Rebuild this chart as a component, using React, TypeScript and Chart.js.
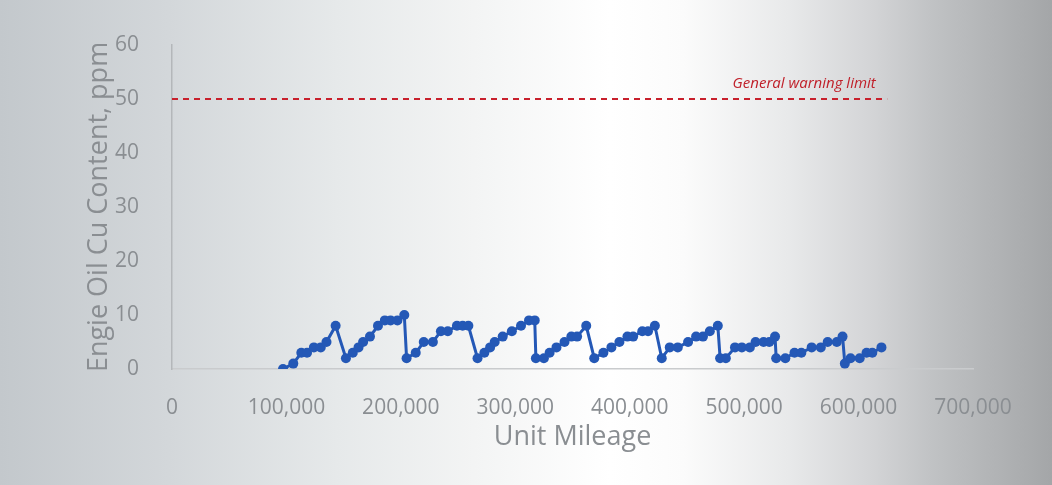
import React, { useEffect, useRef } from "react";
import { Chart, registerables } from "chart.js";

Chart.register(...registerables);

const mileage = [
  97000, 106000, 113000, 118000, 124000, 130000, 135000, 143000,
  152000, 158000, 163000, 167000, 173000, 180000, 186000, 191000, 197000, 203000,
  205000, 213000, 220000, 228000, 235000, 241000, 249000, 254000, 259000,
  267000, 273000, 278000, 282000, 289000, 297000, 305000, 312000, 317000,
  318000, 325000, 330000, 336000, 343000, 349000, 354000, 362000,
  369000, 377000, 384000, 391000, 398000, 403000, 411000, 416000, 422000,
  428000, 435000, 442000, 451000, 458000, 464000, 470000, 477000,
  479000, 484000, 492000, 498000, 505000, 510000, 517000, 522000, 527000,
  528000, 536000, 544000, 550000, 559000, 567000, 573000, 581000, 586000,
  588000, 593000, 601000, 607000, 612000, 620000,
];
const cuPpm = [
  0, 1, 3, 3, 4, 4, 5, 8,
  2, 3, 4, 5, 6, 8, 9, 9, 9, 10,
  2, 3, 5, 5, 7, 7, 8, 8, 8,
  2, 3, 4, 5, 6, 7, 8, 9, 9,
  2, 2, 3, 4, 5, 6, 6, 8,
  2, 3, 4, 5, 6, 6, 7, 7, 8,
  2, 4, 4, 5, 6, 6, 7, 8,
  2, 2, 4, 4, 4, 5, 5, 5, 6,
  2, 2, 3, 3, 4, 4, 5, 5, 6,
  1, 2, 2, 3, 3, 4,
];
const warningLimit = 50;
const warningStart = 0;
const warningEnd = 625000;
const warningLabel = "General warning limit";
const xTitle = "Unit Mileage";
const yTitle = "Engie Oil Cu Content, ppm";

const warningLabelPlugin = {
  id: "warningLabel",
  afterDatasetsDraw(chart: any) {
    const { ctx, scales } = chart;
    const x = scales.x.getPixelForValue(615000);
    const y = scales.y.getPixelForValue(warningLimit);
    ctx.save();
    ctx.font = "italic 15px 'Open Sans', sans-serif";
    ctx.fillStyle = "#c0202a";
    ctx.textAlign = "right";
    ctx.textBaseline = "alphabetic";
    ctx.fillText(warningLabel, x, y - 11);
    ctx.restore();
  },
};

export default function App() {
  const ref = useRef<HTMLCanvasElement>(null);
  useEffect(() => {
    document.body.style.margin = "0";
    Chart.defaults.font.family = "'Open Sans', sans-serif";
    const chart = new Chart(ref.current!, {
      type: "scatter",
      data: {
        datasets: [
          {
            data: [
              { x: warningStart, y: warningLimit },
              { x: warningEnd, y: warningLimit },
            ],
            showLine: true,
            borderColor: "#c8202c",
            borderWidth: 2,
            borderDash: [6, 5],
            pointRadius: 0,
          },
          {
            data: mileage.map((m, i) => ({ x: m, y: cuPpm[i] })),
            showLine: true,
            borderColor: "#2458b6",
            backgroundColor: "#2458b6",
            borderWidth: 3,
            pointRadius: 5,
            pointBorderWidth: 0,
          },
        ],
      },
      options: {
        responsive: false,
        animation: false,
        layout: { padding: { left: 0, top: 45, right: 79, bottom: 0 } },
        plugins: { legend: { display: false }, tooltip: { enabled: false } },
        scales: {
          x: {
            type: "linear",
            min: 0,
            max: 700000,
            grid: { display: false },
            border: { display: true, color: "#c9cbcd", width: 1.5 },
            ticks: {
              stepSize: 100000,
              color: "#8a8e92",
              font: { size: 21 },
              padding: 18,
              maxRotation: 0,
              callback: (v: any) => Number(v).toLocaleString("en-US"),
            },
            title: {
              display: true,
              text: xTitle,
              color: "#8a8e92",
              font: { size: 27 },
              padding: { top: 0, bottom: 31.8 },
            },
            afterFit: (s: any) => {
              s.height = 116;
            },
          },
          y: {
            min: 0,
            max: 60,
            grid: { display: false },
            border: { display: true, color: "#b4b7ba", width: 1.5 },
            ticks: {
              stepSize: 10,
              color: "#8a8e92",
              font: { size: 21 },
              padding: 25,
            },
            title: {
              display: true,
              text: yTitle,
              color: "#8a8e92",
              font: { size: 27 },
              padding: { top: 82.8, bottom: 0 },
            },
            afterFit: (s: any) => {
              s.width = 172;
            },
          },
        },
      },
      plugins: [warningLabelPlugin],
    });
    return () => chart.destroy();
  }, []);
  return (
    <div
      style={{
        width: 1052,
        height: 485,
        background:
          "linear-gradient(to right, #c3c8cc 0%, #d3d7da 16%, #e6e9ea 32%, #f3f4f4 45%, #ffffff 58%, #fbfbfb 65%, #e8e9ea 75%, #d3d4d6 83%, #bfc1c3 89%, #a4a6a8 100%)",
      }}
    >
      <canvas ref={ref} width={1052} height={485} style={{ display: "block" }} />
    </div>
  );
}
